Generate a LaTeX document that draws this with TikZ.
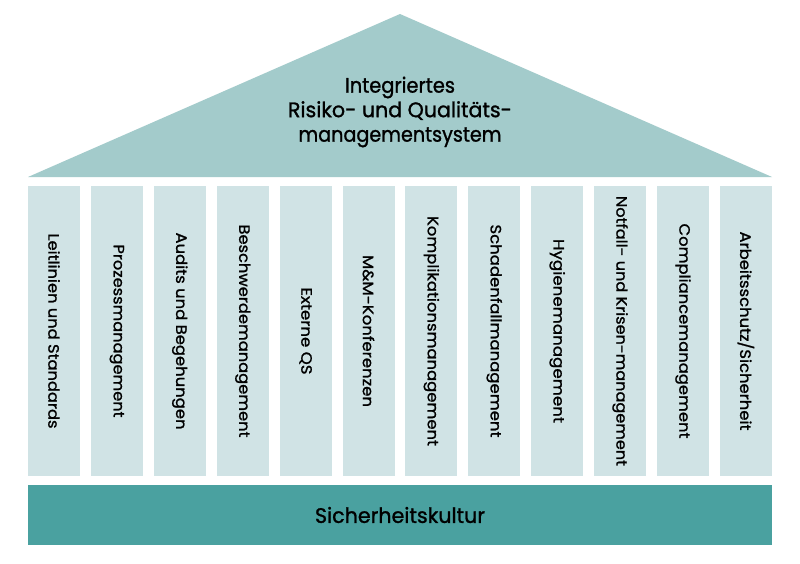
\documentclass[tikz,border=0pt]{standalone}
\usepackage{fontspec}
\setmainfont{Poppins}
\newfontfamily\medfont{Poppins}[FakeBold=1.2]
\usepackage{graphicx}
\definecolor{roofc}{RGB}{163,203,203}
\definecolor{colc}{RGB}{208,227,229}
\definecolor{basec}{RGB}{74,161,160}
\newcommand{\fitw}[2]{\resizebox{#1pt}{\height}{#2}}
\tikzset{
  roof/.style={fill=roofc, draw=none},
  pillar/.style={fill=colc, draw=none, minimum width=52pt, minimum height=290pt, inner sep=0pt},
  basebox/.style={fill=basec, draw=none, minimum width=744pt, minimum height=60pt, inner sep=0pt},
  pillartext/.style={rotate=-90, font=\medfont\fontsize{15}{18}\selectfont, inner sep=0pt, text=black},
}
\begin{document}
\begin{tikzpicture}[x=1pt,y=-1pt]
\useasboundingbox (0,0) rectangle (800,563);
\fill[white] (0,0) rectangle (800,563);
% roof
\coordinate (rl) at (28,177);
\coordinate (ra) at (400,14);
\coordinate (rr) at (772,177);
\fill[roof] (rl) -- (ra) -- (rr) -- cycle;
\node[font=\medfont\fontsize{21}{24.5}\selectfont, align=center, text=black, inner sep=0pt] (rooftext) at (400,112)
  {\fitw{110}{Integriertes}\\\fitw{224}{Risiko- und Qualitäts-}\\\fitw{203}{managementsystem}};
% pillars
\foreach \i/\t/\w in {0/{Leitlinien und Standards}/195,
                      1/{Prozessmanagement}/173,
                      2/{Audits und Begehungen}/197,
                      3/{Beschwerdemanagement}/213,
                      4/{Externe QS}/87,
                      5/{M\&M-Konferenzen}/152,
                      6/{Komplikationsmanagement}/230,
                      7/{Schadenfallmanagement}/213,
                      8/{Hygienemanagement}/184,
                      9/{Notfall- und Krisen-management}/270,
                      10/{Compliancemanagement}/215,
                      11/{Arbeitsschutz/Sicherheit}/199}{
  \node[pillar] (p\i) at ({54+\i*62.9},331) {};
  \node[pillartext] (t\i) at (p\i.center) {\fitw{\w}{\t}};
}
% base
\node[basebox, font=\medfont\fontsize{21}{24}\selectfont] (base) at (400,515) {\fitw{170}{Sicherheitskultur}};
\end{tikzpicture}
\end{document}
